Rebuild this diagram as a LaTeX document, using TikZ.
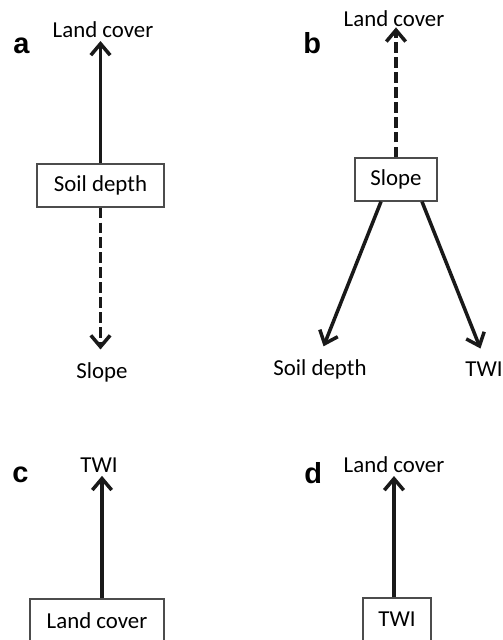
\documentclass[tikz,border=0pt]{standalone}
\usepackage{fontspec}
\setmainfont{Carlito}
\newfontfamily\panelfont{Liberation Sans}
\usetikzlibrary{arrows.meta,positioning}

\begin{document}
\begin{tikzpicture}[
    x=0.02cm, y=-0.02cm,
    factor/.style={rectangle, draw=black!70, line width=0.7pt, minimum height=0.86cm, inner sep=0pt, font=\fontsize{13}{15}\selectfont},
    target/.style={anchor=base, inner sep=2pt, font=\fontsize{13}{15}\selectfont},
    panel/.style={anchor=base west, inner sep=0pt, font=\panelfont\bfseries\fontsize{16.5}{18}\selectfont},
    strong/.style={-{Straight Barb[length=6.5pt,width=11pt]}, line width=2pt, black!90},
    weak/.style={strong, dash pattern=on 6pt off 2.5pt}
]
    \useasboundingbox (0,0) rectangle (503,640);

    % Pannello a
    \node[panel] (labA) at (13,53) {a};
    \node[target] (landA) at (103,37) {Land cover};
    \node[factor, minimum width=2.54cm] (soilA) at (100.5,185.5) {Soil depth};
    \node[target] (slopeA) at (102,378) {Slope};
    \draw[strong] (soilA.north) -- (soilA.north |- landA.south);
    \draw[weak, shorten >=5pt] (soilA.south) -- (soilA.south |- slopeA.north);

    % Pannello b
    \node[panel] (labB) at (303,53) {b};
    \node[target] (landB) at (394,26) {Land cover};
    \node[factor, minimum width=1.64cm] (slopeB) at (396,179.5) {Slope};
    \node[target] (soilB) at (320,375) {Soil depth};
    \node[target] (twiB) at (484,376) {TWI};
    \draw[weak, shorten >=-1.5pt] (slopeB.north) -- (slopeB.north |- landB.south);
    \draw[strong, shorten >=5.5pt] ([xshift=-0.3cm]slopeB.south) -- (soilB.north);
    \draw[strong, shorten >=5.5pt] ([xshift=0.52cm]slopeB.south) -- (twiB.north);

    % Pannello c
    \node[panel] (labC) at (12,482) {c};
    \node[target] (twiC) at (99,472) {TWI};
    \node[factor, minimum width=2.68cm] (landC) at (97,620.5) {Land cover};
    \draw[strong] ([xshift=0.1cm]landC.north) -- ([xshift=0.1cm]landC.north |- twiC.south);

    % Pannello d
    \node[panel] (labD) at (304,483) {d};
    \node[target] (landD) at (394,472) {Land cover};
    \node[factor, minimum width=1.36cm] (twiD) at (397,619.5) {TWI};
    \draw[strong] ([xshift=-0.06cm]twiD.north) -- ([xshift=-0.06cm]twiD.north |- landD.south);
\end{tikzpicture}
\end{document}
